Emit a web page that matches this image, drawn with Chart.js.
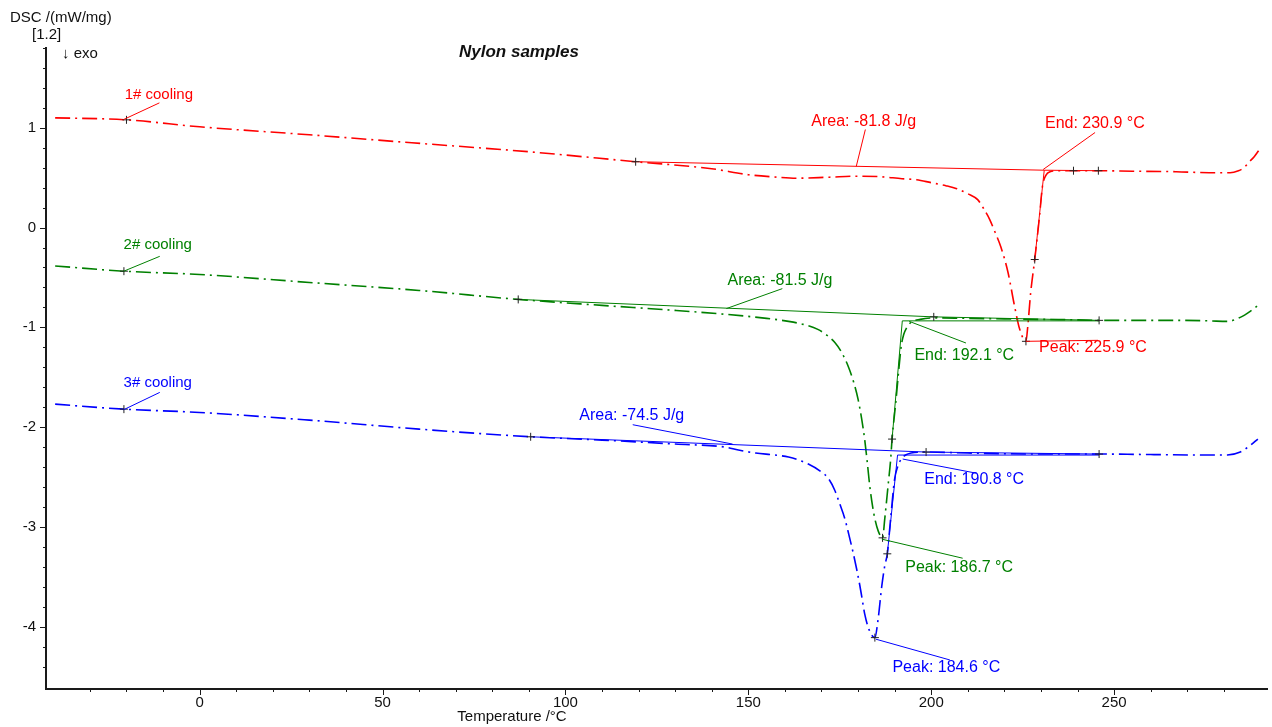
<!DOCTYPE html>
<html>
<head>
<meta charset="utf-8">
<title>Nylon samples - DSC cooling</title>
<script src="https://cdn.jsdelivr.net/npm/chart.js@4.4.1/dist/chart.umd.min.js"></script>
<style>
  html, body { margin: 0; padding: 0; background: #fff; }
  #wrap { width: 1272px; height: 727px; }
</style>
</head>
<body>
<div id="wrap"><canvas id="dsc"></canvas></div>
<script>
/* --- colours / fonts --- */
const COLORS = {
  s1: '#ff0000',
  s2: '#008000',
  s3: '#0000ff',
  axis: '#1a1a1a',
  mark: '#222222',
  text: '#111111'
};
const FONT = "'Liberation Sans', Arial, sans-serif";

/* --- 1# cooling (red) --- */
const S1_T = [-39.5, -20, 0, 30, 58, 90, 119.2, 140, 150, 158, 163, 172, 180, 186, 192, 196, 200, 204, 207, 210,
  212.7, 214.5, 216, 217.5, 219, 221, 222.8, 224.2, 225.9, 226.4, 227.2, 228.3, 229.6, 230.4, 231.3, 232.5,
  235, 240, 246, 255, 267, 276, 281.7, 284, 285.5, 287, 288.3, 289.5];
const S1_DSC = [1.10, 1.08, 1.01, 0.93, 0.85, 0.76, 0.66, 0.59, 0.53, 0.505, 0.495, 0.505, 0.515, 0.51, 0.49, 0.48, 0.45, 0.42, 0.39, 0.34,
  0.28, 0.18, 0.08, -0.05, -0.19, -0.45, -0.79, -1.02, -1.14, -0.99, -0.65, -0.32, 0.11, 0.41, 0.52, 0.56,
  0.57, 0.57, 0.57, 0.565, 0.56, 0.55, 0.55, 0.57, 0.60, 0.66, 0.71, 0.77];
const S1_BASE_T = [119.2, 230.9, 245.7];
const S1_BASE_DSC = [0.66, 0.575, 0.57];
const S1_TAN_T = [228.3, 230.9];
const S1_TAN_DSC = [-0.32, 0.575];
const S1_MARK_T = [-20, 119.2, 225.9, 228.3, 238.9, 245.7];
const S1_MARK_DSC = [1.08, 0.66, -1.14, -0.32, 0.57, 0.57];

/* --- 2# cooling (green) --- */
const S2_T = [-39.5, -20.7, 0, 30, 60, 87.1, 110, 130, 144, 155, 161, 165, 169, 171.5, 173.6, 175.5, 177.3, 178.8,
  180, 181, 181.8, 182.6, 183.2, 184, 184.6, 185.5, 186.7, 187.3, 188.2, 188.9, 189.3, 190.4, 191.2, 191.8,
  192.5, 193.2, 194.5, 197, 200.7, 210, 220, 230, 240, 245.9, 255, 267.3, 276, 280.9, 284.5, 287.2, 289.3];
const S2_DSC = [-0.385, -0.437, -0.47, -0.55, -0.63, -0.72, -0.78, -0.83, -0.87, -0.91, -0.94, -0.97, -1.02, -1.08, -1.15, -1.25, -1.39, -1.55,
  -1.72, -1.92, -2.12, -2.38, -2.59, -2.80, -2.92, -3.04, -3.11, -2.92, -2.59, -2.33, -2.12, -1.72, -1.40, -1.19,
  -1.07, -1.01, -0.95, -0.92, -0.905, -0.91, -0.915, -0.92, -0.925, -0.93, -0.93, -0.93, -0.935, -0.94, -0.90, -0.84, -0.78];
const S2_BASE_T = [87.1, 200.7, 245.9];
const S2_BASE_DSC = [-0.72, -0.895, -0.93];
const S2_TAN_T = [189.3, 192.1, 245.9];
const S2_TAN_DSC = [-2.12, -0.935, -0.935];
const S2_MARK_T = [-20.7, 87.1, 200.7, 245.9, 186.7, 189.3];
const S2_MARK_DSC = [-0.437, -0.72, -0.895, -0.93, -3.11, -2.12];

/* --- 3# cooling (blue) --- */
const S3_T = [-39.5, -20.7, 0, 30, 60, 90.5, 110, 130, 143.6, 147.3, 152, 157.3, 161, 166.4, 170, 171.8, 173.6, 175,
  176.4, 177.5, 178.6, 179.6, 180.5, 181.2, 181.8, 183, 184.6, 185.5, 186.5, 187.3, 188, 188.9, 190, 190.8,
  191.8, 193, 194.5, 198.6, 210, 230, 245.9, 260, 275, 281, 284.5, 287, 289.3];
const S3_DSC = [-1.77, -1.82, -1.853, -1.93, -2.02, -2.097, -2.13, -2.17, -2.20, -2.23, -2.26, -2.28, -2.30, -2.37, -2.45, -2.51, -2.63, -2.77,
  -2.92, -3.08, -3.25, -3.42, -3.59, -3.74, -3.87, -4.03, -4.11, -3.92, -3.59, -3.39, -3.27, -2.92, -2.52, -2.40,
  -2.32, -2.28, -2.26, -2.25, -2.26, -2.27, -2.27, -2.275, -2.28, -2.28, -2.25, -2.19, -2.12];
const S3_BASE_T = [90.5, 198.6, 245.9];
const S3_BASE_DSC = [-2.097, -2.25, -2.27];
const S3_TAN_T = [188, 190.8, 245.9];
const S3_TAN_DSC = [-3.27, -2.28, -2.28];
const S3_MARK_T = [-20.7, 90.5, 198.6, 245.9, 184.6, 188];
const S3_MARK_DSC = [-1.82, -2.097, -2.25, -2.27, -4.11, -3.27];

/* --- annotations: text anchor (left/middle) + leader line, in data units --- */
const NOTE_TEXT = ['1# cooling', 'Area: -81.8 J/g', 'End: 230.9 °C', 'Peak: 225.9 °C',
  '2# cooling', 'Area: -81.5 J/g', 'End: 192.1 °C', 'Peak: 186.7 °C',
  '3# cooling', 'Area: -74.5 J/g', 'End: 190.8 °C', 'Peak: 184.6 °C'];
const NOTE_SERIES = [1, 1, 1, 1, 2, 2, 2, 2, 3, 3, 3, 3];
const NOTE_T = [-20.5, 167.2, 231.1, 229.5, -20.8, 144.3, 195.4, 192.9, -20.8, 103.8, 198.1, 189.4];
const NOTE_DSC = [1.335, 1.063, 1.043, -1.204, -0.17, -0.529, -1.281, -3.41, -1.558, -1.886, -2.528, -4.414];
const LEADER_FROM = [[-20.8, 1.083], [179.5, 0.612], [230.6, 0.582], [225.9, -1.14],
  [-20.8, -0.438], [144.0, -0.812], [194.0, -0.94], [186.5, -3.123],
  [-20.8, -1.826], [145.7, -2.17], [192.2, -2.32], [184.9, -4.126]];
const LEADER_TO = [[-11.0, 1.25], [182.0, 0.983], [244.8, 0.953], [245.6, -1.13],
  [-10.9, -0.288], [159.3, -0.612], [209.5, -1.157], [208.6, -3.314],
  [-10.9, -1.652], [118.4, -1.976], [212.2, -2.461], [205.1, -4.334]];

const X_MIN = -42, X_MAX = 291.8;
const Y_MIN = -4.625, Y_MAX = 1.8;

function pts(ts, vs) {
  return ts.map((t, i) => ({ x: t, y: vs[i] }));
}

function curve(ts, vs, color) {
  return {
    data: pts(ts, vs),
    showLine: true,
    borderColor: color,
    borderWidth: 1.6,
    borderDash: [15, 5, 2, 5],
    pointRadius: 0,
    cubicInterpolationMode: 'monotone',
    order: 3
  };
}

function solid(ts, vs, color) {
  return {
    data: pts(ts, vs),
    showLine: true,
    borderColor: color,
    borderWidth: 1,
    pointRadius: 0,
    order: 2
  };
}

function marks(ts, vs) {
  return {
    data: pts(ts, vs),
    showLine: false,
    pointStyle: 'cross',
    pointRadius: 4,
    borderColor: COLORS.mark,
    backgroundColor: COLORS.mark,
    pointBorderWidth: 1,
    order: 1
  };
}

const seriesColor = s => (s === 1 ? COLORS.s1 : s === 2 ? COLORS.s2 : COLORS.s3);

/* --- plugin: minor/major ticks, notes, header texts --- */
const isStep = (v, step) => Math.abs(v / step - Math.round(v / step)) < 1e-6;

const dscDecor = {
  id: 'dscDecor',
  afterDatasetsDraw(chart) {
    const { ctx, scales: { x, y } } = chart;
    ctx.save();
    ctx.lineWidth = 1;
    NOTE_TEXT.forEach((txt, i) => {
      const c = seriesColor(NOTE_SERIES[i]);
      ctx.strokeStyle = c;
      ctx.beginPath();
      ctx.moveTo(x.getPixelForValue(LEADER_FROM[i][0]), y.getPixelForValue(LEADER_FROM[i][1]));
      ctx.lineTo(x.getPixelForValue(LEADER_TO[i][0]), y.getPixelForValue(LEADER_TO[i][1]));
      ctx.stroke();
      ctx.fillStyle = c;
      ctx.font = (txt.indexOf('cooling') > 0 ? '15px ' : '16px ') + FONT;
      ctx.textAlign = 'left';
      ctx.textBaseline = 'middle';
      ctx.fillText(txt, x.getPixelForValue(NOTE_T[i]), y.getPixelForValue(NOTE_DSC[i]));
    });
    ctx.restore();
  },
  afterDraw(chart) {
    const { ctx, scales: { x, y }, chartArea } = chart;
    ctx.save();
    ctx.strokeStyle = COLORS.axis;
    ctx.lineWidth = 1;
    x.ticks.forEach(t => {
      if (!isStep(t.value, 10)) return;
      const major = isStep(t.value, 50);
      const px = Math.round(x.getPixelForValue(t.value)) + 0.5;
      ctx.beginPath();
      ctx.moveTo(px, chartArea.bottom);
      ctx.lineTo(px, chartArea.bottom + (major ? 6 : 3));
      ctx.stroke();
    });
    y.ticks.forEach(t => {
      if (!isStep(t.value, 0.2)) return;
      const major = isStep(t.value, 1);
      const py = Math.round(y.getPixelForValue(t.value)) + 0.5;
      ctx.beginPath();
      ctx.moveTo(chartArea.left, py);
      ctx.lineTo(chartArea.left - (major ? 6 : 3), py);
      ctx.stroke();
    });

    ctx.fillStyle = COLORS.text;
    ctx.textBaseline = 'middle';
    ctx.textAlign = 'left';
    ctx.font = '15px ' + FONT;
    ctx.fillText('DSC /(mW/mg)', 10, 18);
    ctx.fillText('[1.2]', 32, 35);
    ctx.fillText('\u2193 exo', 62, 54);
    ctx.textAlign = 'center';
    ctx.fillText('Temperature /\u00B0C', 512, 717);
    ctx.font = 'italic bold 17px ' + FONT;
    ctx.fillText('Nylon samples', 519, 52);
    ctx.restore();
  }
};

new Chart(document.getElementById('dsc'), {
  type: 'scatter',
  data: {
    datasets: [
      curve(S1_T, S1_DSC, COLORS.s1),
      curve(S2_T, S2_DSC, COLORS.s2),
      curve(S3_T, S3_DSC, COLORS.s3),
      solid(S1_BASE_T, S1_BASE_DSC, COLORS.s1),
      solid(S1_TAN_T, S1_TAN_DSC, COLORS.s1),
      solid(S2_BASE_T, S2_BASE_DSC, COLORS.s2),
      solid(S2_TAN_T, S2_TAN_DSC, COLORS.s2),
      solid(S3_BASE_T, S3_BASE_DSC, COLORS.s3),
      solid(S3_TAN_T, S3_TAN_DSC, COLORS.s3),
      marks(S1_MARK_T, S1_MARK_DSC),
      marks(S2_MARK_T, S2_MARK_DSC),
      marks(S3_MARK_T, S3_MARK_DSC)
    ]
  },
  options: {
    responsive: true,
    maintainAspectRatio: false,
    animation: false,
    layout: { padding: { top: 48, right: 4, left: 0, bottom: 0 } },
    plugins: {
      legend: { display: false },
      tooltip: { enabled: false }
    },
    scales: {
      x: {
        type: 'linear',
        min: X_MIN,
        max: X_MAX,
        afterFit: s => { s.height = 38; },
        grid: { display: false, drawTicks: false },
        border: { display: true, color: COLORS.axis, width: 2 },
        ticks: {
          stepSize: 10,
          autoSkip: false,
          maxRotation: 0,
          padding: 5,
          color: COLORS.text,
          font: { family: FONT, size: 15 },
          callback: v => (isStep(v, 50) ? String(Math.round(v)) : '')
        }
      },
      y: {
        type: 'linear',
        min: Y_MIN,
        max: Y_MAX,
        afterFit: s => { s.width = 46; },
        grid: { display: false, drawTicks: false },
        border: { display: true, color: COLORS.axis, width: 2 },
        ticks: {
          stepSize: 0.2,
          autoSkip: false,
          padding: 10,
          color: COLORS.text,
          font: { family: FONT, size: 15 },
          callback: v => (isStep(v, 1) ? String(Math.round(v)) : '')
        }
      }
    }
  },
  plugins: [dscDecor]
});
</script>
</body>
</html>
